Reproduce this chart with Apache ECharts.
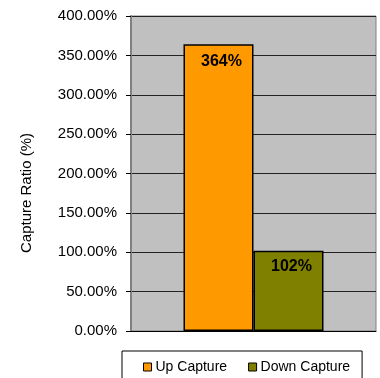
<!DOCTYPE html>
<html>
<head>
<meta charset="utf-8">
<script src="https://cdn.jsdelivr.net/npm/echarts@6/dist/echarts.min.js"></script>
<style>
  html, body { margin: 0; padding: 0; background: #fff; }
  #chart { width: 380px; height: 378px; }
</style>
</head>
<body>
<div id="chart"></div>
<script>
// data
var categories = ['Capture'];
var upCapture = [364];
var downCapture = [102];
var yTicks = [0, 50, 100, 150, 200, 250, 300, 350, 400];

var chart = echarts.init(document.getElementById('chart'));

var font = 'Arial, "Liberation Sans", sans-serif';

var option = {
    animation: false,
    backgroundColor: '#ffffff',
    grid: {
        left: 131,
        right: 4,
        top: 16,
        bottom: 47,
        show: true,
        backgroundColor: '#c0c0c0',
        borderColor: '#808080',
        borderWidth: 1
    },
    legend: {
        left: 122,
        top: 351,
        padding: [9, 12, 12, 21],
        borderColor: '#000',
        borderWidth: 1,
        itemWidth: 8,
        itemHeight: 8,
        itemGap: 21,
        icon: 'rect',
        itemStyle: { borderColor: '#000', borderWidth: 1 },
        textStyle: { fontFamily: font, fontSize: 14, color: '#000', padding: [0, 0, 0, -1] },
        data: ['Up Capture', 'Down Capture']
    },
    graphic: [
        {
            type: 'text',
            x: 27,
            y: 193,
            rotation: Math.PI / 2,
            style: {
                text: 'Capture Ratio (%)',
                fontFamily: font,
                fontSize: 15,
                fill: '#000',
                textAlign: 'center',
                textVerticalAlign: 'middle'
            }
        }
    ],
    xAxis: {
        type: 'category',
        data: categories,
        axisLine: { show: true, lineStyle: { color: '#000', width: 1 } },
        axisTick: { show: false },
        axisLabel: { show: false }
    },
    yAxis: {
        type: 'value',
        min: yTicks[0],
        max: yTicks[yTicks.length - 1],
        interval: 50,
        axisLine: { show: true, lineStyle: { color: '#808080', width: 2 } },
        axisTick: { show: true, length: 5, lineStyle: { color: '#000' } },
        axisLabel: {
            margin: 14,
            fontFamily: font,
            fontSize: 15,
            color: '#000',
            formatter: function (v) { return v.toFixed(2) + '%'; }
        },
        splitLine: { show: true, lineStyle: { color: '#222', width: 1 } }
    },
    series: [
        {
            name: 'Up Capture',
            type: 'bar',
            data: upCapture,
            barWidth: 70,
            barGap: '0%',
            itemStyle: { color: '#ff9900', borderColor: '#000', borderWidth: 1.5 },
            label: {
                show: true,
                position: 'insideTop',
                distance: 9,
                offset: [3, 0],
                fontFamily: font,
                fontSize: 16,
                fontWeight: 'bold',
                color: '#000',
                formatter: '{c}%'
            }
        },
        {
            name: 'Down Capture',
            type: 'bar',
            data: downCapture,
            barWidth: 70,
            itemStyle: { color: '#808000', borderColor: '#000', borderWidth: 1.5 },
            label: {
                show: true,
                position: 'insideTop',
                distance: 8,
                offset: [3, 0],
                fontFamily: font,
                fontSize: 16,
                fontWeight: 'bold',
                color: '#000',
                formatter: '{c}%'
            }
        }
    ]
};

chart.setOption(option);
</script>
</body>
</html>
